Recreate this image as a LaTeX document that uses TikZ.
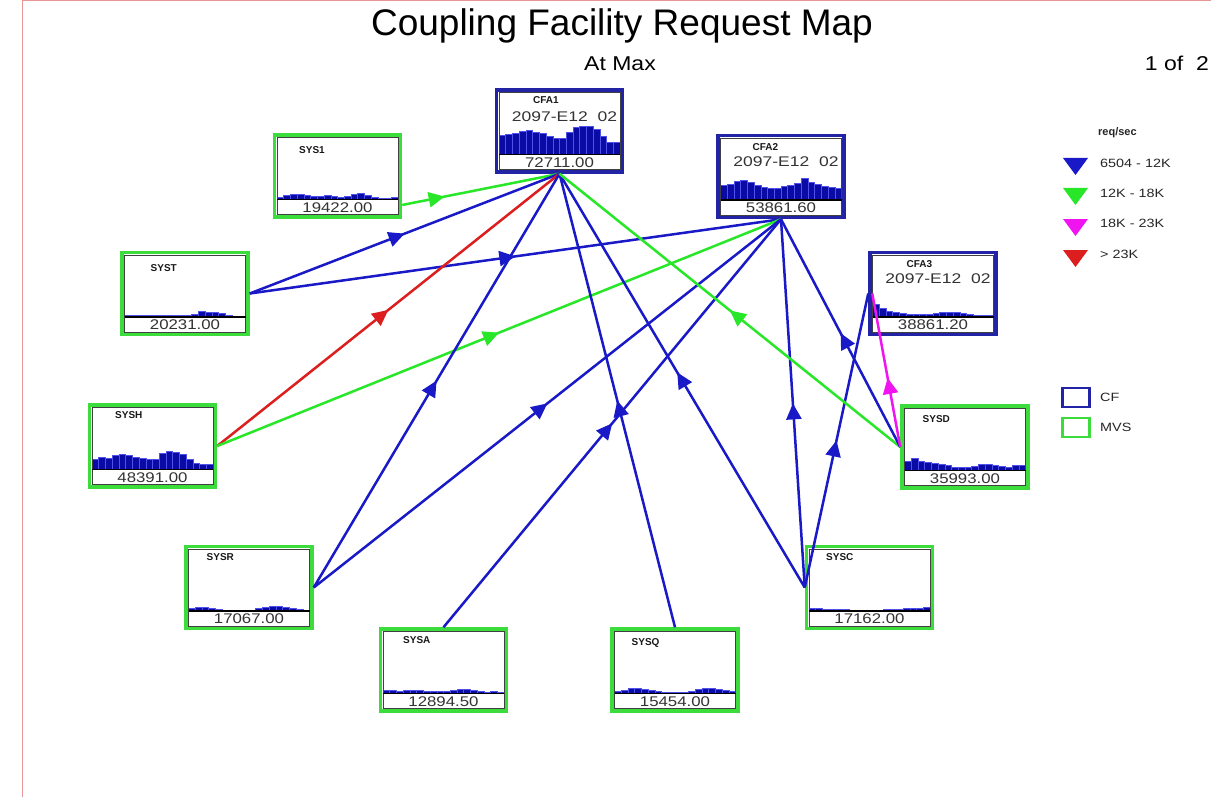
\documentclass[tikz,border=0pt]{standalone}
\usepackage{fontspec}
\setmainfont{Liberation Sans}
\usepackage{graphicx}
\usetikzlibrary{arrows.meta,decorations.markings}
\definecolor{cfblue}{RGB}{35,35,165}
\definecolor{mvsgreen}{RGB}{60,220,60}
\definecolor{lblue}{RGB}{25,25,200}
\definecolor{lgreen}{RGB}{40,230,40}
\definecolor{lred}{RGB}{220,30,30}
\definecolor{lmag}{RGB}{240,20,240}
\definecolor{barfill}{RGB}{10,10,165}
\definecolor{barline}{RGB}{80,80,235}
\definecolor{pageline}{RGB}{232,150,150}
\newcommand{\stretchtxt}[2][1.2]{\scalebox{#1}[1]{#2}}
\newcommand{\sysunit}[9]{%
  \pgfmathsetmacro\bxL{#2-64.5}%
  \pgfmathsetmacro\bxR{#2+64.5}%
  \pgfmathsetmacro\bxT{#3-42.5}%
  \pgfmathsetmacro\bxB{#3+42.5}%
  \pgfmathsetmacro\bxW{121/18}%
  \node[unitbox, draw=#4] (#1) at (#2,#3) {};
  \foreach \hh [count=\ii] in {#9} {\filldraw[bar] ({\bxL+4+(\ii-1)*\bxW},\bxB-19) rectangle ++(\bxW,-\hh);}
  \draw[innerframe] (\bxL+4,\bxT+4) rectangle (\bxR-4,\bxB-4);
  \draw[innerframe] (\bxL+4,\bxB-19) rectangle (\bxR-4,\bxB-4);
  \draw[histbase] (\bxL+4,\bxB-19) -- (\bxR-4,\bxB-19);
  \node[valtext] (#1-v) at (#2,\bxB-11) {\stretchtxt{#8}};
  \node[titletext] (#1-t) at ([shift={(#6)}]\bxL,\bxT) {#5};
  \node[subtext] (#1-s) at (#2+5,\bxT+28) {\stretchtxt[1.25]{#7}};
}
\tikzset{
  unitbox/.style={rectangle, line width=3.5pt, minimum width=126pt, minimum height=82pt, inner sep=0pt, fill=white},
  bar/.style={fill=barfill, draw=barline, line width=0.5pt},
  innerframe/.style={draw=black!75, line width=0.7pt},
  histbase/.style={draw=black, line width=1.8pt},
  valtext/.style={font=\fontsize{14}{16}\selectfont, text=black!80, inner sep=0pt},
  titletext/.style={font=\bfseries\fontsize{10}{12}\selectfont, anchor=west, inner sep=0pt, text=black!90},
  subtext/.style={font=\fontsize{14}{16}\selectfont, text=black!80, inner sep=0pt},
  conn/.style={line width=2.5pt},
  arrowat/.style={postaction={decorate, decoration={markings, mark=at position #1 with {\arrow{Triangle[width=15pt,length=16pt]}}}}},
  legtext/.style={font=\fontsize{12}{14}\selectfont, anchor=west, inner sep=0pt, text=black!85},
}
\begin{document}
\begin{tikzpicture}[x=1pt, y=-1pt]
\useasboundingbox (0,0) rectangle (1211,797);
\fill[white] (0,0) rectangle (1211,797);
\draw[pageline, line width=1pt] (22,797) -- (22,0.5) -- (1211,0.5);

\node[font=\fontsize{37}{42}\selectfont, anchor=base, inner sep=0pt] (title) at (622,36) {Coupling Facility Request Map};
\node[font=\fontsize{20}{24}\selectfont, anchor=base, inner sep=0pt] (atmax) at (620,71) {\stretchtxt[1.15]{At Max}};
\node[font=\fontsize{20}{24}\selectfont, anchor=base east, inner sep=0pt] (page) at (1209,71) {\stretchtxt[1.15]{1 of\ \ 2}};

% units
\sysunit{CFA1}{559.5}{131}{cfblue}{CFA1}{38,12}{2097-E12\ \ 02}{72711.00}{19,20,21,23,24,22,21,18,16,16,22,27,28,28,25,18,12,12}
\sysunit{CFA2}{781}{176.5}{cfblue}{CFA2}{36,13}{2097-E12\ \ 02}{53861.60}{15,16,19,20,18,15,13,12,12,14,15,17,22,18,16,14,13,12}
\sysunit{CFA3}{933}{293.5}{cfblue}{CFA3}{38,13}{2097-E12\ \ 02}{38861.20}{13,9,6,5,4,3,3,3,3,4,5,5,5,4,3,2,2,2}
\sysunit{SYS1}{337.5}{176}{mvsgreen}{SYS1}{26,17}{}{19422.00}{2,4,5,5,4,3,3,4,3,2,3,5,6,4,2,1,1,2}
\sysunit{SYST}{185}{293.5}{mvsgreen}{SYST}{30,17}{}{20231.00}{2,2,2,2,2,2,2,2,2,2,3,6,5,5,4,2,1,1}
\sysunit{SYSH}{152.5}{446}{mvsgreen}{SYSH}{27,12}{}{48391.00}{10,12,11,14,15,14,12,11,10,10,16,18,17,15,10,6,5,5}
\sysunit{SYSD}{965}{447}{mvsgreen}{SYSD}{22,15}{}{35993.00}{9,12,9,8,7,6,5,3,3,3,4,6,6,5,4,3,5,5}
\sysunit{SYSR}{249}{587.5}{mvsgreen}{SYSR}{22,12}{}{17067.00}{3,4,4,3,2,1,1,1,1,1,3,4,5,5,4,3,2,1}
\sysunit{SYSA}{443.5}{670}{mvsgreen}{SYSA}{24,13}{}{12894.50}{3,3,2,3,3,3,2,2,2,2,3,4,4,3,2,1,2,1}
\sysunit{SYSQ}{675}{670}{mvsgreen}{SYSQ}{21,15}{}{15454.00}{2,3,5,5,4,3,2,1,1,1,1,2,4,5,5,4,3,2}
\sysunit{SYSC}{869.5}{587.5}{mvsgreen}{SYSC}{21,12}{}{17162.00}{3,3,2,2,2,2,1,1,1,1,1,2,2,2,3,3,3,4}

% connectors
\draw[conn, lgreen, arrowat=0.27] ([yshift=-29pt]SYS1.east) -- (CFA1.south);
\draw[conn, lblue, arrowat=0.5] (SYST.east) -- (CFA1.south);
\draw[conn, lblue, arrowat=0.5] (SYST.east) -- (CFA2.south);
\draw[conn, lred, arrowat=0.5] (SYSH.east) -- (CFA1.south);
\draw[conn, lgreen, arrowat=0.5] (SYSH.east) -- (CFA2.south);
\draw[conn, lblue, arrowat=0.5] (SYSR.east) -- (CFA1.south);
\draw[conn, lblue, arrowat=0.5] (SYSR.east) -- (CFA2.south);
\draw[conn, lblue, arrowat=0.5] (SYSA.north) -- (CFA2.south);
\draw[conn, lblue, arrowat=0.5] (SYSQ.north) -- (CFA1.south);
\draw[conn, lblue, arrowat=0.52] (SYSC.west) -- (CFA1.south);
\draw[conn, lblue, arrowat=0.5] (SYSC.west) -- (CFA2.south);
\draw[conn, lblue, arrowat=0.5] (SYSC.west) -- (CFA3.west);
\draw[conn, lgreen, arrowat=0.5] (SYSD.west) -- (CFA1.south);
\draw[conn, lblue, arrowat=0.5] (SYSD.west) -- (CFA2.south);
\draw[conn, lmag, arrowat=0.45] (SYSD.west) -- ([xshift=4pt]CFA3.west);

% legend
\node[legtext, font=\bfseries\fontsize{11}{13}\selectfont] (lhead) at (1098,133) {req/sec};
\fill[lblue] (1063,158) -- (1088,158) -- (1075.5,175) -- cycle;
\node[legtext] (l1) at (1100,163) {\stretchtxt{6504 - 12K}};
\fill[lgreen] (1063,188) -- (1088,188) -- (1075.5,205) -- cycle;
\node[legtext] (l2) at (1100,193) {\stretchtxt{12K - 18K}};
\fill[lmag] (1063,219) -- (1088,219) -- (1075.5,236) -- cycle;
\node[legtext] (l3) at (1100,223) {\stretchtxt{18K - 23K}};
\fill[lred] (1063,250) -- (1088,250) -- (1075.5,267) -- cycle;
\node[legtext] (l4) at (1100,254) {\stretchtxt{> 23K}};
\node[draw=cfblue, line width=2.5pt, minimum width=27pt, minimum height=19pt, inner sep=0pt] (lcf) at (1076,397.5) {};
\node[legtext] (lcft) at (1100,397) {\stretchtxt{CF}};
\node[draw=mvsgreen, line width=2.5pt, minimum width=27pt, minimum height=19pt, inner sep=0pt] (lmvs) at (1076,427.5) {};
\node[legtext] (lmvst) at (1100,427) {\stretchtxt{MVS}};
\end{tikzpicture}
\end{document}
